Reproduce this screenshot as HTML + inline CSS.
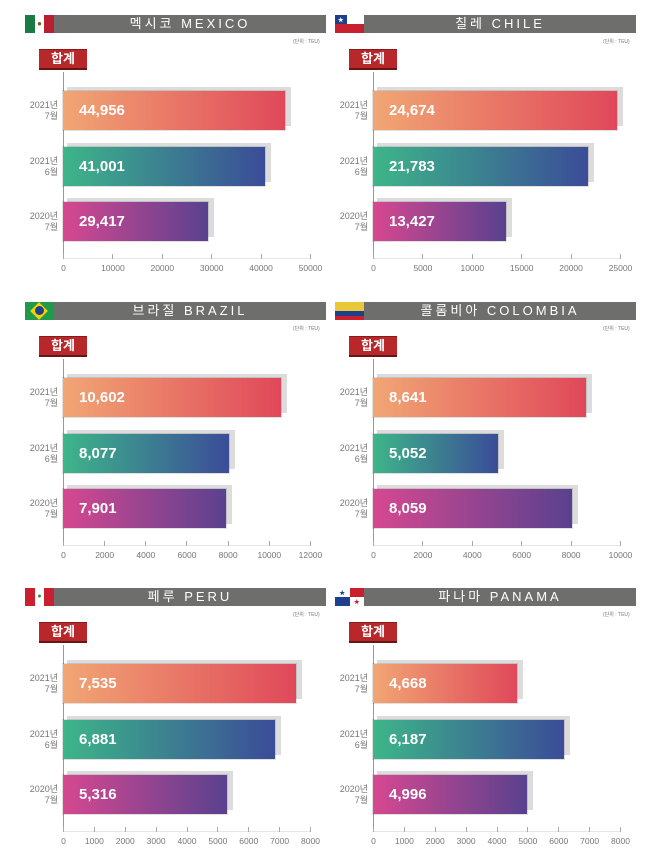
<!DOCTYPE html>
<html><head><meta charset="utf-8">
<style>
body{margin:0;width:650px;height:862px;background:#fff;position:relative;overflow:hidden;font-family:"Liberation Sans","Noto Sans CJK KR",sans-serif}
.p{position:absolute;width:330px;height:286px}
.a{position:absolute}
.fl{position:absolute;left:25px;top:15px;width:29px;height:18px;overflow:hidden}
.hd{position:absolute;left:54px;top:15px;width:272px;background:#6e6e6d;color:#fff;font-size:13px;letter-spacing:3px;text-align:center;line-height:18px;height:18px}
.unit{position:absolute;left:293px;top:38px;font-size:5px;color:#777;white-space:nowrap}
.badge{position:absolute;left:39px;top:49px;background:#b8272a;color:#fff;font-size:13px;font-weight:bold;text-align:center;line-height:18px;height:18px;width:48px;border-top:1px solid #8a1a1a;border-bottom:2px solid #6a1515}
.ax{position:absolute;left:63px;top:72px;width:1px;height:187px;background:#999}
.bl{position:absolute;left:63px;top:258px;width:247px;height:1px;background:#e6e6e6}
.ticks{position:absolute;left:63px;top:254px;width:248px;height:5px;display:flex;justify-content:space-between}
.ticks i{display:block;width:1px;height:5px;background:#aaa}
.tl{position:absolute;left:63px;top:263px;width:248px;display:flex;justify-content:space-between;font-size:8.5px;color:#777}
.tl span{width:1px;display:flex;justify-content:center;white-space:nowrap}
.lbl{position:absolute;left:18px;font-size:9px;color:#777;text-align:right;line-height:11px;width:40px}
.sh{position:absolute;left:67px;height:39px;background:#dcdcdc}
.bar{position:absolute;left:63px;height:39px;color:#fff;font-weight:bold;font-size:15px;line-height:39px;padding-left:16px;box-sizing:border-box;box-shadow:0 0 0 1px rgba(0,0,0,.12)}
.r1{top:91px}.r2{top:147px}.r3{top:202px}
.s1{top:87px}.s2{top:143px}.s3{top:198px}
.l1{top:100px}.l2{top:156px}.l3{top:211px}
.g1{background:linear-gradient(90deg,#f1a674,#e0485a)}
.g2{background:linear-gradient(90deg,#3db589,#3b4c98)}
.g3{background:linear-gradient(90deg,#d64890,#59418f)}
</style></head><body>

<!-- MEXICO -->
<div class="p" style="left:0;top:0">
<div class="fl" style="display:flex"><div style="flex:1;background:#1c7a45"></div><div style="flex:1;background:#fff;text-align:center;font-size:8px;line-height:18px;color:#7a5a20">●</div><div style="flex:1;background:#b8202f"></div></div>
<div class="hd">멕시코 MEXICO</div><div class="unit">(단위 : TEU)</div><div class="badge">합계</div>
<div class="ax"></div><div class="bl"></div>
<div class="ticks"><i></i><i></i><i></i><i></i><i></i><i></i></div>
<div class="tl"><span>0</span><span>10000</span><span>20000</span><span>30000</span><span>40000</span><span>50000</span></div>
<div class="sh s1" style="width:224px"></div><div class="bar r1 g1" style="width:222px">44,956</div>
<div class="sh s2" style="width:204px"></div><div class="bar r2 g2" style="width:202px">41,001</div>
<div class="sh s3" style="width:147px"></div><div class="bar r3 g3" style="width:145px">29,417</div>
<div class="lbl l1">2021년<br>7월</div><div class="lbl l2">2021년<br>6월</div><div class="lbl l3">2020년<br>7월</div>
</div>

<!-- CHILE -->
<div class="p" style="left:310px;top:0">
<div class="fl"><div style="height:50%;display:flex"><div style="width:40%;background:#1e3e8e;color:#fff;font-size:6px;text-align:center">★</div><div style="flex:1;background:#fff"></div></div><div style="height:50%;background:#c8202f"></div></div>
<div class="hd">칠레 CHILE</div><div class="unit">(단위 : TEU)</div><div class="badge">합계</div>
<div class="ax"></div><div class="bl"></div>
<div class="ticks"><i></i><i></i><i></i><i></i><i></i><i></i></div>
<div class="tl"><span>0</span><span>5000</span><span>10000</span><span>15000</span><span>20000</span><span>25000</span></div>
<div class="sh s1" style="width:246px"></div><div class="bar r1 g1" style="width:244px">24,674</div>
<div class="sh s2" style="width:217px"></div><div class="bar r2 g2" style="width:215px">21,783</div>
<div class="sh s3" style="width:135px"></div><div class="bar r3 g3" style="width:133px">13,427</div>
<div class="lbl l1">2021년<br>7월</div><div class="lbl l2">2021년<br>6월</div><div class="lbl l3">2020년<br>7월</div>
</div>

<!-- BRAZIL -->
<div class="p" style="left:0;top:287px">
<div class="fl" style="background:#1f9a4a"><div class="a" style="left:7px;top:2px;width:14px;height:14px;background:#f5d000;transform:rotate(45deg) scale(.9)"></div><div class="a" style="left:10px;top:4px;width:9px;height:9px;border-radius:50%;background:#1e3e8e"></div></div>
<div class="hd">브라질 BRAZIL</div><div class="unit">(단위 : TEU)</div><div class="badge">합계</div>
<div class="ax"></div><div class="bl"></div>
<div class="ticks"><i></i><i></i><i></i><i></i><i></i><i></i><i></i></div>
<div class="tl"><span>0</span><span>2000</span><span>4000</span><span>6000</span><span>8000</span><span>10000</span><span>12000</span></div>
<div class="sh s1" style="width:220px"></div><div class="bar r1 g1" style="width:218px">10,602</div>
<div class="sh s2" style="width:168px"></div><div class="bar r2 g2" style="width:166px">8,077</div>
<div class="sh s3" style="width:165px"></div><div class="bar r3 g3" style="width:163px">7,901</div>
<div class="lbl l1">2021년<br>7월</div><div class="lbl l2">2021년<br>6월</div><div class="lbl l3">2020년<br>7월</div>
</div>

<!-- COLOMBIA -->
<div class="p" style="left:310px;top:287px">
<div class="fl"><div style="height:50%;background:#e8c838"></div><div style="height:25%;background:#1e3e8e"></div><div style="height:25%;background:#c8202f"></div></div>
<div class="hd">콜롬비아 COLOMBIA</div><div class="unit">(단위 : TEU)</div><div class="badge">합계</div>
<div class="ax"></div><div class="bl"></div>
<div class="ticks"><i></i><i></i><i></i><i></i><i></i><i></i></div>
<div class="tl"><span>0</span><span>2000</span><span>4000</span><span>6000</span><span>8000</span><span>10000</span></div>
<div class="sh s1" style="width:215px"></div><div class="bar r1 g1" style="width:213px">8,641</div>
<div class="sh s2" style="width:127px"></div><div class="bar r2 g2" style="width:125px">5,052</div>
<div class="sh s3" style="width:201px"></div><div class="bar r3 g3" style="width:199px">8,059</div>
<div class="lbl l1">2021년<br>7월</div><div class="lbl l2">2021년<br>6월</div><div class="lbl l3">2020년<br>7월</div>
</div>

<!-- PERU -->
<div class="p" style="left:0;top:573px">
<div class="fl" style="display:flex"><div style="flex:1;background:#c8202f"></div><div style="flex:1;background:#fff;text-align:center;font-size:7px;line-height:18px;color:#3a8a3a">●</div><div style="flex:1;background:#c8202f"></div></div>
<div class="hd">페루 PERU</div><div class="unit">(단위 : TEU)</div><div class="badge">합계</div>
<div class="ax"></div><div class="bl"></div>
<div class="ticks"><i></i><i></i><i></i><i></i><i></i><i></i><i></i><i></i><i></i></div>
<div class="tl"><span>0</span><span>1000</span><span>2000</span><span>3000</span><span>4000</span><span>5000</span><span>6000</span><span>7000</span><span>8000</span></div>
<div class="sh s1" style="width:235px"></div><div class="bar r1 g1" style="width:233px">7,535</div>
<div class="sh s2" style="width:214px"></div><div class="bar r2 g2" style="width:212px">6,881</div>
<div class="sh s3" style="width:166px"></div><div class="bar r3 g3" style="width:164px">5,316</div>
<div class="lbl l1">2021년<br>7월</div><div class="lbl l2">2021년<br>6월</div><div class="lbl l3">2020년<br>7월</div>
</div>

<!-- PANAMA -->
<div class="p" style="left:310px;top:573px">
<div class="fl"><div style="display:flex;height:50%"><div style="flex:1;background:#fff;color:#1e3e8e;font-size:6px;text-align:center">★</div><div style="flex:1;background:#c8202f"></div></div><div style="display:flex;height:50%"><div style="flex:1;background:#1e3e8e"></div><div style="flex:1;background:#fff;color:#c8202f;font-size:6px;text-align:center">★</div></div></div>
<div class="hd">파나마 PANAMA</div><div class="unit">(단위 : TEU)</div><div class="badge">합계</div>
<div class="ax"></div><div class="bl"></div>
<div class="ticks"><i></i><i></i><i></i><i></i><i></i><i></i><i></i><i></i><i></i></div>
<div class="tl"><span>0</span><span>1000</span><span>2000</span><span>3000</span><span>4000</span><span>5000</span><span>6000</span><span>7000</span><span>8000</span></div>
<div class="sh s1" style="width:146px"></div><div class="bar r1 g1" style="width:144px">4,668</div>
<div class="sh s2" style="width:193px"></div><div class="bar r2 g2" style="width:191px">6,187</div>
<div class="sh s3" style="width:156px"></div><div class="bar r3 g3" style="width:154px">4,996</div>
<div class="lbl l1">2021년<br>7월</div><div class="lbl l2">2021년<br>6월</div><div class="lbl l3">2020년<br>7월</div>
</div>

</body></html>
